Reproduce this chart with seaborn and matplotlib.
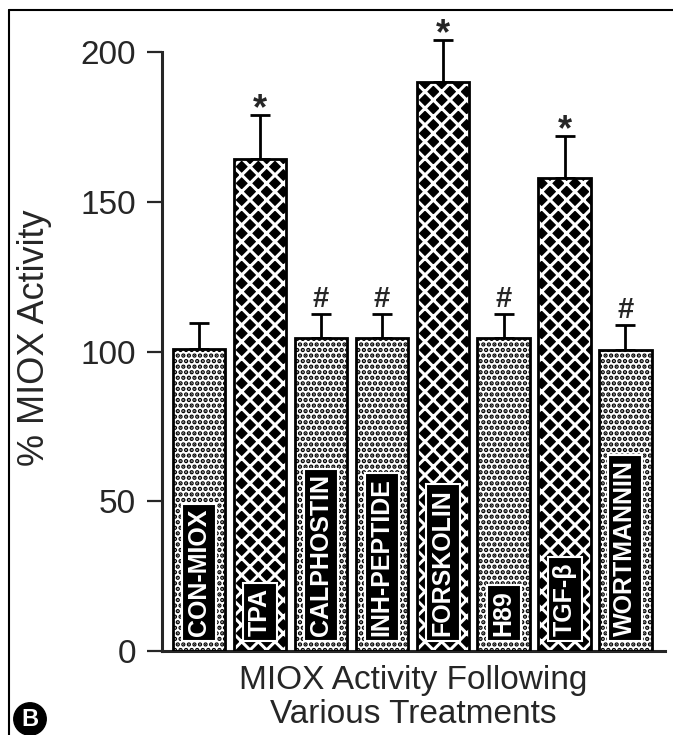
"""
Bar chart of MIOX activity following various treatments (panel B).

Bars show % MIOX activity relative to control with upper SEM whiskers.
Stimulators are drawn with a diamond pattern, control and inhibitors with
a stipple pattern. Figure is saved to out.png.
"""

import matplotlib.pyplot as plt
from matplotlib.lines import Line2D
import pandas as pd
import seaborn as sns

# Data
categories = ["CON-MIOX", "TPA", "CALPHOSTIN", "INH-PEPTIDE",
              "FORSKOLIN", "H89", "TGF-β", "WORTMANNIN"]
activity = [101, 164.5, 104.5, 104.5, 190, 104.5, 158, 100.5]
sem = [8.5, 14.5, 8, 8, 14, 8, 14, 8.5]
significance = ["", "*", "#", "#", "*", "#", "*", "#"]
stimulator = [False, True, False, False, True, False, True, False]
y_ticks = [0, 50, 100, 150, 200]


def style():
    sns.set_style("ticks")
    plt.rcParams["font.family"] = ["Liberation Sans", "DejaVu Sans"]
    plt.rcParams["hatch.linewidth"] = 2.2


def draw(out_path: str = "out.png") -> None:
    df = pd.DataFrame({"treatment": categories, "activity": activity})

    fig = plt.figure(figsize=(6.73, 7.35), dpi=100)
    ax = fig.add_axes([0.2407, 0.1143, 0.7474, 0.8144])

    sns.barplot(data=df, x="treatment", y="activity", order=categories,
                width=0.86, errorbar=None, color="white", ax=ax, zorder=2)

    # patterns: diamonds for stimulators, stipple for control / inhibitors
    for patch, stim in zip(ax.patches, stimulator):
        if stim:
            patch.set_facecolor("black")
            patch.set_edgecolor("white")
            patch.set_hatch("xx")
        else:
            patch.set_facecolor("white")
            patch.set_edgecolor("black")
            patch.set_hatch("...")
        patch.set_linewidth(0)

    # outlines on top of the hatching
    sns.barplot(data=df, x="treatment", y="activity", order=categories,
                width=0.86, errorbar=None, fill=False, ax=ax, zorder=3)
    for patch in ax.patches[len(categories):]:
        patch.set_edgecolor("black")
        patch.set_linewidth(2.0)

    xs = list(range(len(categories)))
    ax.errorbar(xs, activity, yerr=[[0] * len(sem), sem], fmt="none",
                ecolor="black", elinewidth=2.0, capsize=7, capthick=2.0,
                zorder=1, clip_on=False)

    # significance marks above whiskers
    for x, m, e, s in zip(xs, activity, sem, significance):
        if not s:
            continue
        if s == "*":
            ax.annotate(s, (x, m + e), xytext=(0, -3), textcoords="offset points",
                        ha="center", va="baseline", fontsize=26, fontweight="bold",
                        annotation_clip=False)
        else:
            ax.annotate(s, (x, m + e), xytext=(0, 5), textcoords="offset points",
                        ha="center", va="baseline", fontsize=21, fontweight="bold",
                        annotation_clip=False)

    # treatment names inside the bars
    for x, name in zip(xs, categories):
        ax.text(x, 5, name, rotation=90, ha="center", va="bottom",
                color="white", fontsize=18, fontweight="bold", zorder=5,
                bbox=dict(boxstyle="square,pad=0.2", facecolor="black",
                          edgecolor="white", linewidth=1.5))

    ax.set_xlim(-0.61, 7.65)
    ax.set_ylim(0, 200)
    ax.set_yticks(y_ticks)
    ax.set_xticks([])
    ax.tick_params(axis="y", direction="out", length=10.5, width=1.6,
                   pad=8, labelsize=24)
    sns.despine(ax=ax)
    for side in ["left", "bottom"]:
        ax.spines[side].set_linewidth(2.2)

    ax.set_xlabel("MIOX Activity Following\nVarious Treatments", fontsize=24,
                  labelpad=10, linespacing=1.15)
    ax.set_ylabel("% MIOX Activity", fontsize=26)
    ax.yaxis.set_label_coords(-0.2187, 0.523)

    # panel frame (cropped) and panel letter
    fig.add_artist(Line2D([0.0134, 0.0134], [0.0, 0.9864], color="black", lw=1.5))
    fig.add_artist(Line2D([0.0134, 1.0], [0.9864, 0.9864], color="black", lw=1.5))
    fig.text(30 / 673, 1 - 719 / 735, "B", ha="center", va="center",
             color="white", fontsize=17, fontweight="bold",
             bbox=dict(boxstyle="circle,pad=0.2", facecolor="black",
                       edgecolor="black"))

    fig.savefig(out_path, dpi=100)
    plt.close(fig)


def main():
    style()
    draw()


if __name__ == "__main__":
    main()
